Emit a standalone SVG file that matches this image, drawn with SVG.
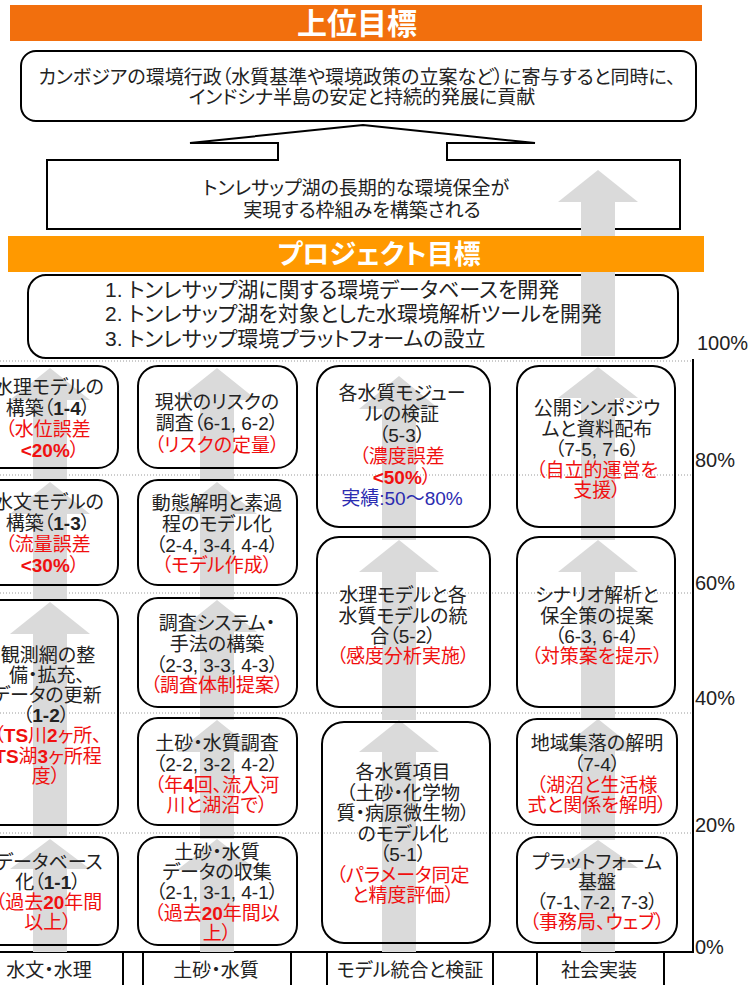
<svg xmlns="http://www.w3.org/2000/svg" width="756" height="985" viewBox="0 0 756 985">
<style>
.bx{fill:none;stroke:#000;stroke-width:2}
.wb{fill:#fff;stroke:#000;stroke-width:2}
.ar{fill:#dadada}
.t{font-family:"Liberation Sans","Noto Sans CJK JP",sans-serif;font-size:19px;fill:#222;text-anchor:middle;font-feature-settings:"palt" 1}
.r{fill:#f01010}
.bl{fill:#2b2bb0}
.bd{font-weight:bold}
.g{stroke:#9a9a9a;stroke-width:1;stroke-dasharray:1 2}
.p{font-family:"Liberation Sans",sans-serif;font-size:20px;fill:#222}
.h{font-family:"Noto Sans CJK JP",sans-serif;font-weight:bold;fill:#fff;text-anchor:middle;font-feature-settings:"palt" 1}
.pt{font-family:"Liberation Sans","Noto Sans CJK JP",sans-serif;font-size:21px;fill:#222;font-feature-settings:"palt" 1}
</style>
<rect width="756" height="985" fill="#fff"/>

<g id="goal-header">
<rect x="10" y="5" width="692" height="36" fill="#f26f0d"/>
<text class="h" x="357" y="34" font-size="30">上位目標</text>
</g>

<g id="goal-box">
<rect class="wb" x="21" y="51" width="675" height="70" rx="15"/>
<text class="t" x="357" y="84" font-size="18">カンボジアの環境行政（水質基準や環境政策の立案など）に寄与すると同時に、</text>
<text class="t" x="362" y="104" font-size="18">インドシナ半島の安定と持続的発展に貢献</text>
</g>

<g id="framework-box">
<path class="wb" d="M47,160 L278,160 L278,143 L190,143 L363,125 L535,143 L447,143 L447,160 L680,160 L680,229 L47,229 Z"/>
</g>

<g id="project-box">
<rect class="wb" x="28" y="275" width="650" height="83" rx="18"/>
</g>

<path class="ar" d="M598,170 L638,202 L615,202 L615,356 L581,356 L581,202 L558,202 Z"/>

<g id="framework-text">
<text class="t" x="356" y="195" font-size="21">トンレサップ湖の長期的な環境保全が</text>
<text class="t" x="362" y="217" font-size="21">実現する枠組みを構築される</text>
</g>

<g id="project-header">
<rect x="8" y="236" width="696" height="36" fill="#ff9900"/>
<text class="h" x="379" y="264" font-size="27">プロジェクト目標</text>
</g>

<g id="project-text">
<text class="pt" x="105" y="297">1. トンレサップ湖に関する環境データベースを開発</text>
<text class="pt" x="105" y="321">2. トンレサップ湖を対象とした水環境解析ツールを開発</text>
<text class="pt" x="105" y="346">3. トンレサップ環境プラットフォームの設立</text>
</g>

<g id="grid">
<line class="g" x1="0" y1="361" x2="692" y2="361"/>
<line class="g" x1="0" y1="475" x2="692" y2="475"/>
<line class="g" x1="0" y1="593" x2="692" y2="593"/>
<line class="g" x1="0" y1="713" x2="692" y2="713"/>
<line class="g" x1="0" y1="833" x2="692" y2="833"/>
<line x1="693" y1="359" x2="693" y2="953" stroke="#000" stroke-width="2"/>
<line x1="0" y1="952" x2="694" y2="952" stroke="#000" stroke-width="2"/>
<text class="p" x="697" y="350">100%</text>
<text class="p" x="695" y="467">80%</text>
<text class="p" x="695" y="590">60%</text>
<text class="p" x="695" y="705">40%</text>
<text class="p" x="695" y="832">20%</text>
<text class="p" x="695" y="954">0%</text>
</g>

<g id="connectors">
<path class="ar" d="M50,368 L90,400 L67,400 L67,480 L33,480 L33,400 L10,400 Z"/>
<path class="ar" d="M50,482 L90,514 L67,514 L67,600 L33,600 L33,514 L10,514 Z"/>
<path class="ar" d="M50,602 L90,634 L67,634 L67,837 L33,837 L33,634 L10,634 Z"/>
<path class="ar" d="M50,839 L90,869 L67,869 L67,952 L33,952 L33,869 L10,869 Z"/>
<path class="ar" d="M217,368 L257,400 L234,400 L234,480 L200,480 L200,400 L177,400 Z"/>
<path class="ar" d="M217,482 L257,514 L234,514 L234,600 L200,600 L200,514 L177,514 Z"/>
<path class="ar" d="M217,600 L257,632 L234,632 L234,720 L200,720 L200,632 L177,632 Z"/>
<path class="ar" d="M217,720 L257,752 L234,752 L234,839 L200,839 L200,752 L177,752 Z"/>
<path class="ar" d="M217,839 L257,870 L234,870 L234,952 L200,952 L200,870 L177,870 Z"/>
<path class="ar" d="M399,376 L439,409 L416,409 L416,540 L382,540 L382,409 L359,409 Z"/>
<path class="ar" d="M399,540 L439,572 L416,572 L416,720 L382,720 L382,572 L359,572 Z"/>
<path class="ar" d="M399,720 L439,752 L416,752 L416,952 L382,952 L382,752 L359,752 Z"/>
<path class="ar" d="M598,367 L638,398 L615,398 L615,540 L581,540 L581,398 L558,398 Z"/>
<path class="ar" d="M598,540 L638,572 L615,572 L615,719 L581,719 L581,572 L558,572 Z"/>
<path class="ar" d="M598,719 L638,751 L615,751 L615,840 L581,840 L581,751 L558,751 Z"/>
<path class="ar" d="M598,840 L638,868 L615,868 L615,952 L581,952 L581,868 L558,868 Z"/>
</g>

<g id="n1-4">
<rect class="bx" x="-30" y="366" width="148" height="102" rx="20"/>
<text class="t" x="49" y="394">水理モデルの</text>
<text class="t" x="48" y="415">構築（<tspan class="bd">1-4</tspan>）</text>
<text class="t r" x="48" y="436">（水位誤差</text>
<text class="t r bd" x="50" y="457">&lt;20%<tspan style="font-weight:normal">）</tspan></text>
</g>
<g id="n1-3">
<rect class="bx" x="-30" y="480" width="148" height="105" rx="20"/>
<text class="t" x="49" y="509">水文モデルの</text>
<text class="t" x="48" y="530">構築（<tspan class="bd">1-3</tspan>）</text>
<text class="t r" x="48" y="551">（流量誤差</text>
<text class="t r bd" x="50" y="572">&lt;30%<tspan style="font-weight:normal">）</tspan></text>
</g>
<g id="n1-2">
<rect class="bx" x="-30" y="600" width="148" height="225" rx="20"/>
<text class="t" x="48" y="662">観測網の整</text>
<text class="t" x="47" y="682">備・拡充、</text>
<text class="t" x="47" y="702">データの更新</text>
<text class="t" x="46" y="722">（<tspan class="bd">1-2</tspan>）</text>
<text class="t r" x="48" y="742">（<tspan class="bd">TS</tspan>川<tspan class="bd">2</tspan>ヶ所、</text>
<text class="t r" x="48" y="763"><tspan class="bd">TS</tspan>湖<tspan class="bd">3</tspan>ヶ所程</text>
<text class="t r" x="46" y="783">度）</text>
</g>
<g id="n1-1">
<rect class="bx" x="-30" y="837" width="148" height="108" rx="20"/>
<text class="t" x="49" y="869">データベース</text>
<text class="t" x="48" y="889">化（<tspan class="bd">1-1</tspan>）</text>
<text class="t r" x="49" y="909">（過去<tspan class="bd">20</tspan>年間</text>
<text class="t r" x="48" y="929">以上）</text>
</g>

<g id="n6-1">
<rect class="bx" x="138" y="366" width="159" height="102" rx="20"/>
<text class="t" x="217" y="409">現状のリスクの</text>
<text class="t" x="217" y="430">調査（6-1, 6-2）</text>
<text class="t r" x="217" y="452">（リスクの定量）</text>
</g>
<g id="n2-4">
<rect class="bx" x="138" y="480" width="159" height="105" rx="20"/>
<text class="t" x="217" y="510">動態解明と素過</text>
<text class="t" x="217" y="531">程のモデル化</text>
<text class="t" x="217" y="552">（2-4, 3-4, 4-4）</text>
<text class="t r" x="217" y="572">（モデル作成）</text>
</g>
<g id="n2-3">
<rect class="bx" x="138" y="598" width="159" height="109" rx="20"/>
<text class="t" x="217" y="630">調査システム・</text>
<text class="t" x="217" y="651">手法の構築</text>
<text class="t" x="217" y="672">（2-3, 3-3, 4-3）</text>
<text class="t r" x="217" y="692">（調査体制提案）</text>
</g>
<g id="n2-2">
<rect class="bx" x="138" y="718" width="159" height="107" rx="20"/>
<text class="t" x="217" y="750">土砂・水質調査</text>
<text class="t" x="217" y="771">（2-2, 3-2, 4-2）</text>
<text class="t r" x="217" y="792">（年<tspan class="bd">4</tspan>回、流入河</text>
<text class="t r" x="217" y="812">川と湖沼で）</text>
</g>
<g id="n2-1">
<rect class="bx" x="138" y="837" width="159" height="108" rx="20"/>
<text class="t" x="217" y="859">土砂・水質</text>
<text class="t" x="217" y="879">データの収集</text>
<text class="t" x="217" y="899">（2-1, 3-1, 4-1）</text>
<text class="t r" x="217" y="920">（過去<tspan class="bd">20</tspan>年間以</text>
<text class="t r" x="217" y="940">上）</text>
</g>

<g id="n5-3">
<rect class="bx" x="317" y="366" width="173" height="161" rx="22"/>
<text class="t" x="402" y="400">各水質モジュー</text>
<text class="t" x="402" y="421">ルの検証</text>
<text class="t" x="402" y="442">（5-3）</text>
<text class="t r" x="402" y="463">（濃度誤差</text>
<text class="t r bd" x="402" y="484">&lt;50%<tspan style="font-weight:normal">）</tspan></text>
<text class="t bl" x="402" y="505">実績:50〜80%</text>
</g>
<g id="n5-2">
<rect class="bx" x="317" y="537" width="173" height="170" rx="22"/>
<text class="t" x="403" y="602">水理モデルと各</text>
<text class="t" x="403" y="623">水質モデルの統</text>
<text class="t" x="403" y="643">合（5-2）</text>
<text class="t r" x="403" y="663">（感度分析実施）</text>
</g>
<g id="n5-1">
<rect class="bx" x="322" y="722" width="168" height="221" rx="22"/>
<text class="t" x="403" y="779">各水質項目</text>
<text class="t" x="403" y="800">（土砂・化学物</text>
<text class="t" x="403" y="820">質・病原微生物）</text>
<text class="t" x="403" y="841">のモデル化</text>
<text class="t" x="403" y="861">（5-1）</text>
<text class="t r" x="403" y="882">（パラメータ同定</text>
<text class="t r" x="403" y="902">と精度評価）</text>
</g>

<g id="n7-5">
<rect class="bx" x="517" y="366" width="158" height="161" rx="22"/>
<text class="t" x="597" y="415">公開シンポジウ</text>
<text class="t" x="597" y="436">ムと資料配布</text>
<text class="t" x="597" y="456">（7-5, 7-6）</text>
<text class="t r" x="597" y="477">（自立的運営を</text>
<text class="t r" x="597" y="497">支援）</text>
</g>
<g id="n6-3">
<rect class="bx" x="517" y="537" width="158" height="170" rx="22"/>
<text class="t" x="597" y="602">シナリオ解析と</text>
<text class="t" x="597" y="623">保全策の提案</text>
<text class="t" x="597" y="643">（6-3, 6-4）</text>
<text class="t r" x="597" y="663">（対策案を提示）</text>
</g>
<g id="n7-4">
<rect class="bx" x="517" y="719" width="160" height="106" rx="20"/>
<text class="t" x="597" y="750">地域集落の解明</text>
<text class="t" x="597" y="771">（7-4）</text>
<text class="t r" x="597" y="792">（湖沼と生活様</text>
<text class="t r" x="597" y="812">式と関係を解明）</text>
</g>
<g id="n7-1">
<rect class="bx" x="517" y="837" width="160" height="106" rx="20"/>
<text class="t" x="597" y="869">プラットフォーム</text>
<text class="t" x="597" y="889">基盤</text>
<text class="t" x="597" y="909">（7-1、7-2, 7-3）</text>
<text class="t r" x="597" y="929">（事務局、ウェブ）</text>
</g>

<g id="categories">
<path d="M123,952 V990 M143,952 V990 M291,952 V990 M327,952 V990 M493,952 V990 M537,952 V990 M664,952 V990" stroke="#000" stroke-width="2" fill="none"/>
<text class="t" x="49" y="977">水文・水理</text>
<text class="t" x="216" y="977">土砂・水質</text>
<text class="t" x="410" y="977">モデル統合と検証</text>
<text class="t" x="599" y="977">社会実装</text>
</g>
</svg>
